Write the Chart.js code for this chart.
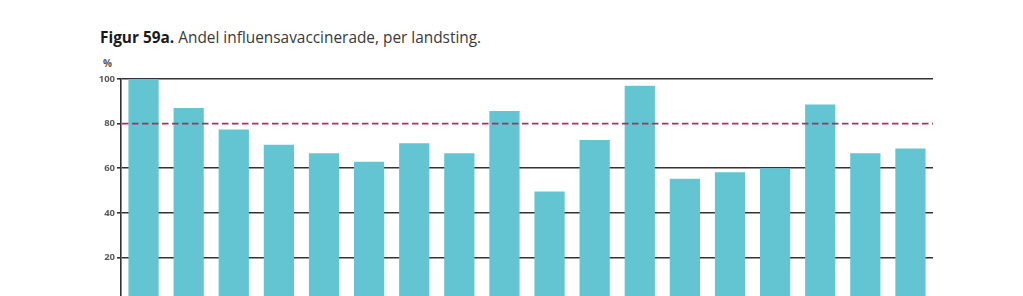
<!DOCTYPE html>
<html>
<head>
<meta charset="utf-8">
<script src="https://cdn.jsdelivr.net/npm/chart.js@4/dist/chart.umd.min.js"></script>
<style>
  html, body { margin: 0; padding: 0; background: #fff; }
  body { width: 1023px; height: 296px; overflow: hidden; position: relative; }
  #title {
    position: absolute; left: 100px; top: 27px;
    font-family: "Open Sans", sans-serif; font-size: 15.4px; color: #3a3a3a;
    white-space: nowrap;
  }
  #title b { color: #1a1a1a; }
  #unit {
    position: absolute; left: 103px; top: 56px;
    font-family: "Open Sans", sans-serif; font-size: 10px; font-weight: bold; color: #555;
  }
  #wrap { position: absolute; left: 0; top: 0; width: 1023px; height: 310px; }
</style>
</head>
<body>
<div id="title"><b>Figur 59a.</b> Andel influensavaccinerade, per landsting.</div>
<div id="unit">%</div>
<div id="wrap"><canvas id="chart"></canvas></div>
<script>
// Landsting (namn ej synliga i bilden)
const categories = ['1', '2', '3', '4', '5', '6', '7', '8', '9', '10', '11', '12', '13', '14', '15', '16', '17', '18'];
const shareVaccinated = [100, 87, 77.3, 70.5, 66.7, 62.9, 71.2, 66.7, 85.7, 49.6, 72.6, 97, 55.3, 58.2, 60, 88.6, 66.7, 68.8];
const targetLevel = 80;
const yTicks = [20, 40, 60, 80, 100];

// Dashed target line across the plot
const targetLine = {
    id: 'targetLine',
    afterDatasetsDraw(chart) {
        const { ctx, chartArea, scales } = chart;
        const y = scales.y.getPixelForValue(targetLevel);
        ctx.save();
        ctx.strokeStyle = '#9e3563';
        ctx.lineWidth = 1.6;
        ctx.setLineDash([6.5, 3.5]);
        ctx.beginPath();
        ctx.moveTo(chartArea.left + 1, y);
        ctx.lineTo(chartArea.right, y);
        ctx.stroke();
        ctx.restore();
    }
};

const ctx = document.getElementById('chart').getContext('2d');
new Chart(ctx, {
    type: 'bar',
    data: {
        labels: categories,
        datasets: [{
            data: shareVaccinated,
            backgroundColor: '#62c5d1',
            borderWidth: 0,
            barPercentage: 0.67,
            categoryPercentage: 1
        }]
    },
    options: {
        responsive: true,
        maintainAspectRatio: false,
        animation: false,
        layout: {
            padding: { top: 79, left: 88, right: 90, bottom: 8 }
        },
        plugins: {
            legend: { display: false },
            tooltip: { enabled: false }
        },
        scales: {
            x: {
                display: false
            },
            y: {
                min: 0,
                max: 100,
                afterFit(scale) { scale.width = 33; },
                afterBuildTicks(scale) {
                    scale.ticks = [0].concat(yTicks).map(v => ({ value: v }));
                },
                border: { display: true, color: '#333', width: 1.6 },
                grid: {
                    color: (c) => c.tick && c.tick.value === targetLevel ? 'rgba(0,0,0,0)' : '#333',
                    tickColor: '#333',
                    lineWidth: 1.6,
                    tickLength: 4
                },
                ticks: {
                    padding: 2,
                    color: '#5a5a5a',
                    font: { family: 'Open Sans', size: 9.5, weight: 'bold' },
                    callback: (v) => v === 0 ? '' : v
                }
            }
        }
    },
    plugins: [targetLine]
});
</script>
</body>
</html>
